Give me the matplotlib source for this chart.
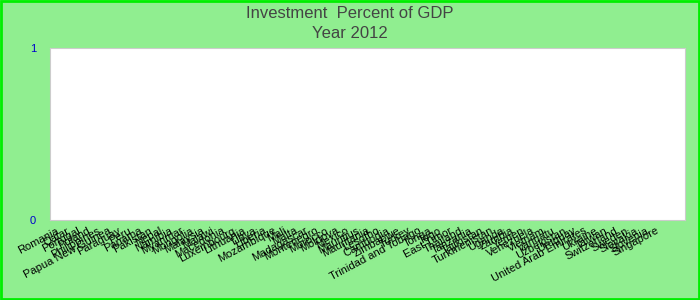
import matplotlib
matplotlib.use('Agg')
import matplotlib.pyplot as plt
import numpy as np

plt.rcParams['font.family'] = ['Liberation Sans', 'DejaVu Sans']

countries = ['Romania', 'Qatar', 'Portugal', 'Poland', 'Philippines', 'Papua New Guinea',
             'Paraguay', 'Peru', 'Panama', 'Pakistan', 'Nepal', 'Namibia', 'Myanmar',
             'Mongolia', 'Malaysia', 'Malawi', 'Macedonia', 'Luxembourg', 'Lithuania',
             'Libya', 'Liberia', 'Mozambique', 'Mali', 'Malta', 'Madagascar', 'Montenegro',
             'Morocco', 'Moldova', 'Mexico', 'Mauritius', 'Mauritania', 'Lesotho', 'Cambodia',
             'Zimbabwe', 'Turkey', 'Trinidad and Tobago', 'Tonga', 'Togo', 'East Timor',
             'Thailand', 'Tanzania', 'Tajikistan', 'Turkmenistan', 'Uganda', 'Zambia',
             'Yemen', 'Venezuela', 'Vietnam', 'Vanuatu', 'Uzbekistan', 'Uruguay',
             'United Arab Emirates', 'Ukraine', 'Taiwan', 'Switzerland', 'Sweden',
             'Slovakia', 'Slovenia', 'Singapore']
invest_pct = [0] * len(countries)

bg = '#90ee90'
fig = plt.figure(figsize=(7, 3), dpi=100, facecolor=bg)
ax = fig.add_axes([50 / 700, 80 / 300, 635 / 700, 172 / 300])
ax.set_facecolor('white')

x = np.arange(len(countries))
ax.bar(x, invest_pct, color='#3366cc')
ax.set_ylim(0, 1)
ax.set_yticks([0, 1])
ax.set_yticklabels(['0', '1'], color='#0000cc', fontsize=8)
ax.set_xlim(-0.6, len(countries) + 1.8)
ax.set_xticks(x)
ax.set_xticklabels(countries, rotation=28, ha='right', rotation_mode='anchor', fontsize=8)
ax.tick_params(length=0, pad=4)
ax.tick_params(axis='y', pad=10)
for s in ax.spines.values():
    s.set_color('#cccccc')
    s.set_linewidth(0.8)

fig.text(0.5, 0.955, 'Investment  Percent of GDP', ha='center', va='center',
         fontsize=12, color='#444444')
fig.text(0.5, 0.89, 'Year 2012', ha='center', va='center',
         fontsize=12, color='#444444')

# bright green frame round the whole picture
fig.add_artist(plt.Rectangle((0.0015, 0.003), 0.997, 0.993, transform=fig.transFigure,
                             fill=False, edgecolor='#00ee00', linewidth=2))

fig.savefig('out.png', dpi=100, facecolor=bg)
